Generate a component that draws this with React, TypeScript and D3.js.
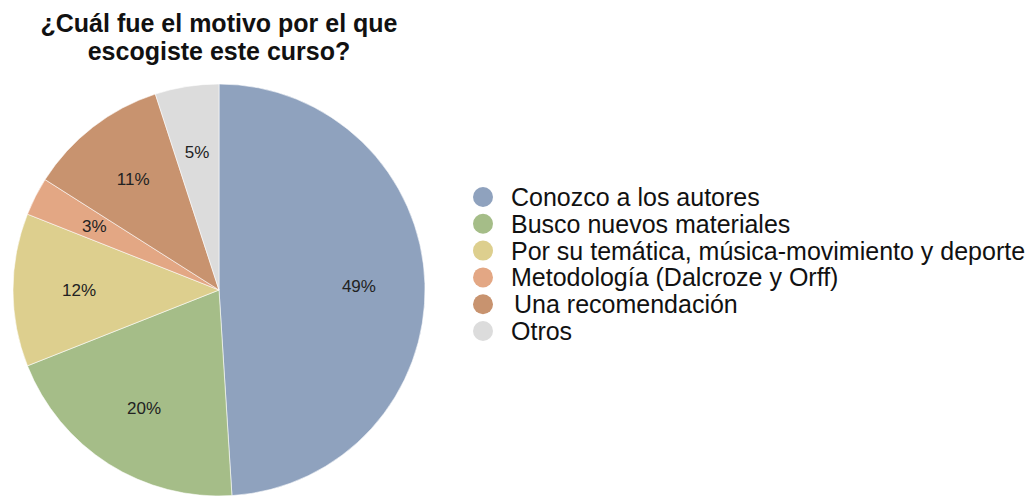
import React from "react";
import * as d3 from "d3";

const categories = [
  "Conozco a los autores",
  "Busco nuevos materiales",
  "Por su temática, música-movimiento y deporte",
  "Metodología (Dalcroze y Orff)",
  "Una recomendación",
  "Otros",
];
const values = [49, 20, 12, 3, 11, 5];
const colors = ["#8fa2be", "#a5bd88", "#ddcf8e", "#e3a784", "#c8936f", "#dcdcdc"];
const titleLines = ["¿Cuál fue el motivo por el que", "escogiste este curso?"];

const W = 1034;
const H = 497;

export default function App() {
  const cx = 219;
  const cy = 290;
  const r = 206;
  const pie = d3.pie<number>().sort(null).value((d) => d)(values);
  const arc = d3.arc<d3.PieArcDatum<number>>().innerRadius(0).outerRadius(r);
  const labelArc = d3.arc<d3.PieArcDatum<number>>().innerRadius(140).outerRadius(140);
  const total = d3.sum(values);

  const legendY = d3.scalePoint<string>().domain(categories).range([197, 331]);

  return (
    <svg
      width={W}
      height={H}
      style={{ position: "absolute", left: 0, top: 0, background: "#fff" }}
      fontFamily="'Liberation Sans', Arial, Helvetica, sans-serif"
    >
      <g>
        {titleLines.map((t, i) => (
          <text
            key={i}
            x={219}
            y={32 + i * 28}
            textAnchor="middle"
            fontSize={25}
            fontWeight="bold"
            fill="#111"
          >
            {t}
          </text>
        ))}
      </g>
      <g transform={`translate(${cx},${cy})`}>
        {pie.map((d, i) => (
          <path key={i} d={arc(d) || ""} fill={colors[i]} stroke="#ffffff" strokeWidth={0.8} strokeOpacity={0.7} />
        ))}
        {pie.map((d, i) => {
          const [x, y] = labelArc.centroid(d);
          return (
            <text
              key={"l" + i}
              x={x}
              y={y + 6}
              textAnchor="middle"
              fontSize={17}
              fill="#222"
            >
              {Math.round((d.value / total) * 100)}%
            </text>
          );
        })}
      </g>
      <g>
        {categories.map((c, i) => (
          <g key={c} transform={`translate(0,${legendY(c)})`}>
            <circle cx={483} cy={0} r={10} fill={colors[i]} />
            <text x={i === 4 ? 514 : 511} y={9} fontSize={25} fill="#111">
              {c}
            </text>
          </g>
        ))}
      </g>
    </svg>
  );
}
